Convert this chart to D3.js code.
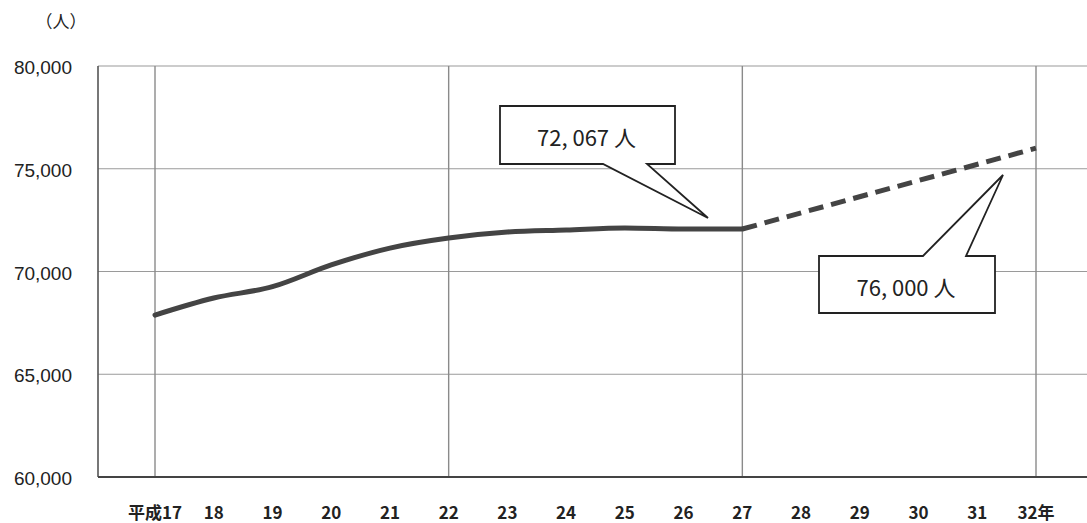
<!DOCTYPE html>
<html>
<head>
<meta charset="utf-8">
<script src="https://cdn.jsdelivr.net/npm/d3@7"></script>
<style>
  html, body { margin: 0; padding: 0; background: #fff; }
  svg { display: block; }
</style>
</head>
<body>
<svg id="chart" width="1087" height="523"></svg>
<script>
// Year categories (Heisei era) and their axis labels
const years = [17, 18, 19, 20, 21, 22, 23, 24, 25, 26, 27, 28, 29, 30, 31, 32];
const yearLabels = ["平成17", "18", "19", "20", "21", "22", "23", "24", "25", "26", "27", "28", "29", "30", "31", "32年"];

// Actual population (H17–H27)
const actualYears = [17, 18, 19, 20, 21, 22, 23, 24, 25, 26, 27];
const actualValues = [67880, 68710, 69260, 70320, 71140, 71630, 71920, 72020, 72120, 72070, 72067];

// Target line (H27 → H32)
const targetYears = [27, 32];
const targetValues = [72067, 76000];

// Y axis ticks
const yTicks = [60000, 65000, 70000, 75000, 80000];
// Years with vertical grid lines
const gridYears = [17, 22, 27, 32];

const svg = d3.select("#chart");
const W = 1087;

const x = d3.scaleLinear().domain([17, 32]).range([155, 1036]);
const y = d3.scaleLinear().domain([60000, 80000]).range([477, 66]);
const left = 98;

// Horizontal grid lines
svg.append("g").selectAll("line").data(yTicks.filter(v => v > 60000)).join("line")
  .attr("x1", left).attr("x2", W)
  .attr("y1", d => y(d)).attr("y2", d => y(d))
  .attr("stroke", "#9a9a9a").attr("stroke-width", 1.2);

// Vertical grid lines
svg.append("g").selectAll("line").data(gridYears).join("line")
  .attr("x1", d => x(d)).attr("x2", d => x(d))
  .attr("y1", y(80000)).attr("y2", y(60000))
  .attr("stroke", "#8a8a8a").attr("stroke-width", 1.4);

// Axis lines
svg.append("line").attr("x1", left).attr("x2", left)
  .attr("y1", y(80000)).attr("y2", y(60000))
  .attr("stroke", "#555").attr("stroke-width", 1.6);
svg.append("line").attr("x1", left).attr("x2", W)
  .attr("y1", y(60000)).attr("y2", y(60000))
  .attr("stroke", "#444").attr("stroke-width", 1.8);

// Y tick labels
svg.append("g").selectAll("text").data(yTicks).join("text")
  .attr("x", 72).attr("y", d => y(d) + 8)
  .attr("text-anchor", "end")
  .attr("font-family", "Liberation Sans, Arial, sans-serif")
  .attr("font-size", 19).attr("fill", "#222")
  .text(d => d3.format(",")(d));

// Unit label
svg.append("text").attr("x", 61).attr("y", 28)
  .attr("text-anchor", "middle")
  .attr("font-family", "Noto Sans CJK JP, sans-serif")
  .attr("font-size", 17).attr("fill", "#222")
  .text("（人）");

// X tick labels
svg.append("g").selectAll("text").data(years).join("text")
  .attr("x", d => x(d))
  .attr("y", 519)
  .attr("text-anchor", "middle")
  .attr("font-family", "Noto Sans CJK JP, sans-serif")
  .attr("font-weight", 700)
  .attr("font-size", 17).attr("fill", "#222")
  .text((d, i) => yearLabels[i]);

// Actual line
const line = d3.line().x(d => x(d[0])).y(d => y(d[1])).curve(d3.curveMonotoneX);
svg.append("path")
  .datum(actualYears.map((yr, i) => [yr, actualValues[i]]))
  .attr("d", line)
  .attr("fill", "none").attr("stroke", "#444")
  .attr("stroke-width", 5).attr("stroke-linecap", "round");

// Target dashed line
svg.append("path")
  .datum(targetYears.map((yr, i) => [yr, targetValues[i]]))
  .attr("d", d3.line().x(d => x(d[0])).y(d => y(d[1])))
  .attr("fill", "none").attr("stroke", "#444")
  .attr("stroke-width", 5).attr("stroke-dasharray", "15,8");

// Callout boxes with pointer tails
function callout(bx, by, bw, bh, baseL, baseR, tipX, tipY, tailOnTop, label) {
  const g = svg.append("g");
  let pts;
  if (tailOnTop) {
    pts = [[bx, by], [baseL, by], [tipX, tipY], [baseR, by], [bx + bw, by],
           [bx + bw, by + bh], [bx, by + bh]];
  } else {
    pts = [[bx, by], [bx + bw, by], [bx + bw, by + bh], [baseR, by + bh],
           [tipX, tipY], [baseL, by + bh], [bx, by + bh]];
  }
  g.append("path").attr("d", d3.line()(pts) + "Z")
    .attr("fill", "#fff").attr("stroke", "#222").attr("stroke-width", 1.8)
    .attr("stroke-linejoin", "miter");
  g.append("text").attr("x", bx + bw / 2 - 1).attr("y", by + bh / 2 + 11)
    .attr("text-anchor", "middle")
    .attr("font-family", "Noto Sans CJK JP, sans-serif")
    .attr("font-size", 22).attr("fill", "#222")
    .text(label);
}

const fmtJa = v => d3.format(",")(v).replace(",", ", ") + " 人";
callout(500, 106, 175, 58, 603, 647, 708, 218, false, fmtJa(actualValues[actualValues.length - 1]));
callout(819, 256, 176, 57, 923, 966, 1003, 175, true, fmtJa(targetValues[1]));
</script>
</body>
</html>
